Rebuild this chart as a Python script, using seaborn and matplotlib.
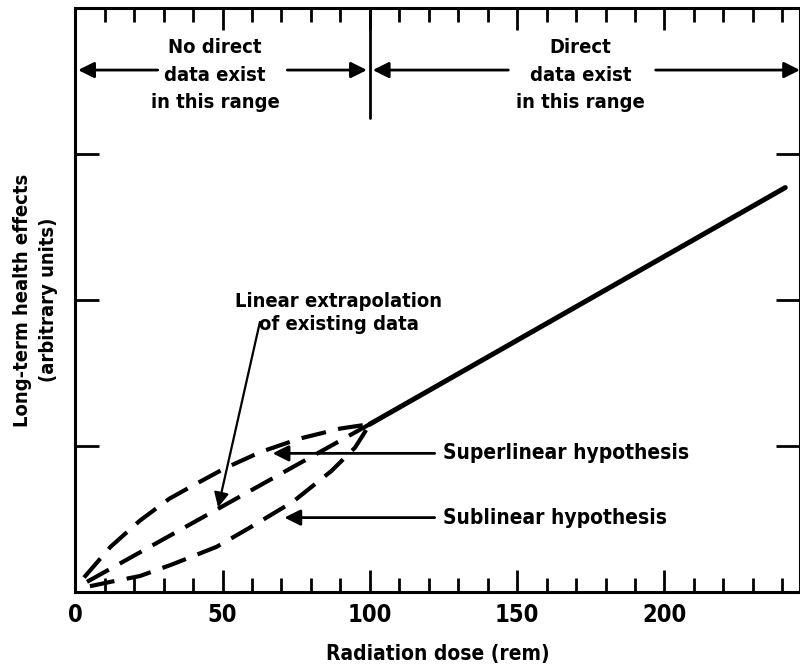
import matplotlib
matplotlib.use("Agg")
import matplotlib.pyplot as plt
from matplotlib.ticker import MultipleLocator, NullFormatter
import seaborn as sns

# ── Data ─────────────────────────────────────────────────────────────────────

DOSE_DIRECT = [100, 241]
EFFECT_DIRECT = [1.15, 2.77]

DOSE_LINEAR = [4, 100]
EFFECT_LINEAR = [0.07, 1.15]

DOSE_SUPER = [3, 12, 22, 32, 40, 51, 63, 76, 90, 100]
EFFECT_SUPER = [0.10, 0.31, 0.49, 0.64, 0.73, 0.85, 0.96, 1.05, 1.12, 1.15]

DOSE_SUB = [5, 12, 22, 33, 48, 60, 74, 87, 95, 100]
EFFECT_SUB = [0.04, 0.07, 0.11, 0.19, 0.31, 0.45, 0.62, 0.83, 0.99, 1.15]

X_TICKS = [0, 50, 100, 150, 200]
Y_TICKS = [1, 2, 3]

LEFT_HEADER = "No direct\ndata exist\nin this range"
RIGHT_HEADER = "Direct\ndata exist\nin this range"
LINEAR_NOTE = "Linear extrapolation\nof existing data"
SUPER_NOTE = "Superlinear hypothesis"
SUB_NOTE = "Sublinear hypothesis"

# ── Style ────────────────────────────────────────────────────────────────────

sns.set_style("white")
plt.rcParams["font.family"] = ["DejaVu Sans"]
plt.rcParams["font.stretch"] = "condensed"
plt.rcParams["font.weight"] = "bold"
plt.rcParams["text.color"] = "black"
plt.rcParams["axes.labelcolor"] = "black"
plt.rcParams["xtick.color"] = "black"
plt.rcParams["ytick.color"] = "black"

INK = "black"
DASH = (0, (6, 3))

fig = plt.figure(figsize=(8, 6.66), dpi=100)
ax = fig.add_axes([0.094, 0.111, 0.906, 0.877])

sns.lineplot(x=DOSE_DIRECT, y=EFFECT_DIRECT, ax=ax, color=INK, lw=3.6)
for xs, ys in [(DOSE_LINEAR, EFFECT_LINEAR), (DOSE_SUPER, EFFECT_SUPER),
               (DOSE_SUB, EFFECT_SUB)]:
    sns.lineplot(x=xs, y=ys, ax=ax, color=INK, lw=3, linestyle=DASH,
                 sort=False, estimator=None)

ax.set_xlim(0, 246)
ax.set_ylim(0, 4)

# ── Axes & ticks ─────────────────────────────────────────────────────────────

for side in ["left", "bottom", "top", "right"]:
    ax.spines[side].set_linewidth(2.2)
    ax.spines[side].set_color(INK)

ax.set_xticks(X_TICKS)
ax.xaxis.set_minor_locator(MultipleLocator(10))
ax.set_yticks(Y_TICKS)
ax.yaxis.set_major_formatter(NullFormatter())
ax.tick_params(axis="x", which="major", direction="in", length=16, width=2,
               top=True, bottom=True, labelsize=17, pad=8)
ax.tick_params(axis="x", which="minor", direction="in", length=10, width=2,
               top=True, bottom=True)
ax.tick_params(axis="y", which="major", direction="in", length=17, width=2,
               left=True, right=True)
for lbl in ax.get_xticklabels():
    lbl.set_fontweight("bold")

ax.set_xlabel("Radiation dose (rem)", fontsize=15, fontweight="bold", labelpad=12)
ax.set_ylabel("Long-term health effects\n(arbitrary units)", fontsize=14.5,
              fontweight="bold", labelpad=9, linespacing=1.45)

# ── Header: data ranges ──────────────────────────────────────────────────────

arrow = dict(arrowstyle="-|>", lw=2, color=INK, mutation_scale=24,
             shrinkA=0, shrinkB=0)
ax.plot([100, 100], [3.25, 4.0], color=INK, lw=2)
ax.annotate("", xy=(1, 3.575), xytext=(28, 3.575), arrowprops=arrow)
ax.annotate("", xy=(99, 3.575), xytext=(72, 3.575), arrowprops=arrow)
ax.annotate("", xy=(101, 3.575), xytext=(147, 3.575), arrowprops=arrow)
ax.annotate("", xy=(246, 3.575), xytext=(197, 3.575), arrowprops=arrow,
            annotation_clip=False)
ax.text(47.5, 3.54, LEFT_HEADER, ha="center", va="center", fontsize=14.5,
        fontweight="bold", linespacing=1.55)
ax.text(171.5, 3.54, RIGHT_HEADER, ha="center", va="center", fontsize=14.5,
        fontweight="bold", linespacing=1.55)

# ── Annotations ──────────────────────────────────────────────────────────────

ax.text(89.5, 1.91, LINEAR_NOTE, ha="center", va="center", fontsize=14.5,
        fontweight="bold", linespacing=1.3)
ax.annotate("", xy=(48.5, 0.58), xytext=(62.7, 1.85),
            arrowprops=dict(arrowstyle="-|>", lw=1.6, color=INK,
                            mutation_scale=22, shrinkA=0, shrinkB=0))

ax.annotate(SUPER_NOTE, xy=(67, 0.95), xytext=(125, 0.95), va="center",
            fontsize=15, fontweight="bold",
            arrowprops=dict(arrowstyle="-|>", lw=2, color=INK,
                            mutation_scale=24, shrinkA=4, shrinkB=0))
ax.annotate(SUB_NOTE, xy=(71, 0.51), xytext=(125, 0.51), va="center",
            fontsize=15, fontweight="bold",
            arrowprops=dict(arrowstyle="-|>", lw=2, color=INK,
                            mutation_scale=24, shrinkA=4, shrinkB=0))

fig.savefig("out.png", dpi=100)
